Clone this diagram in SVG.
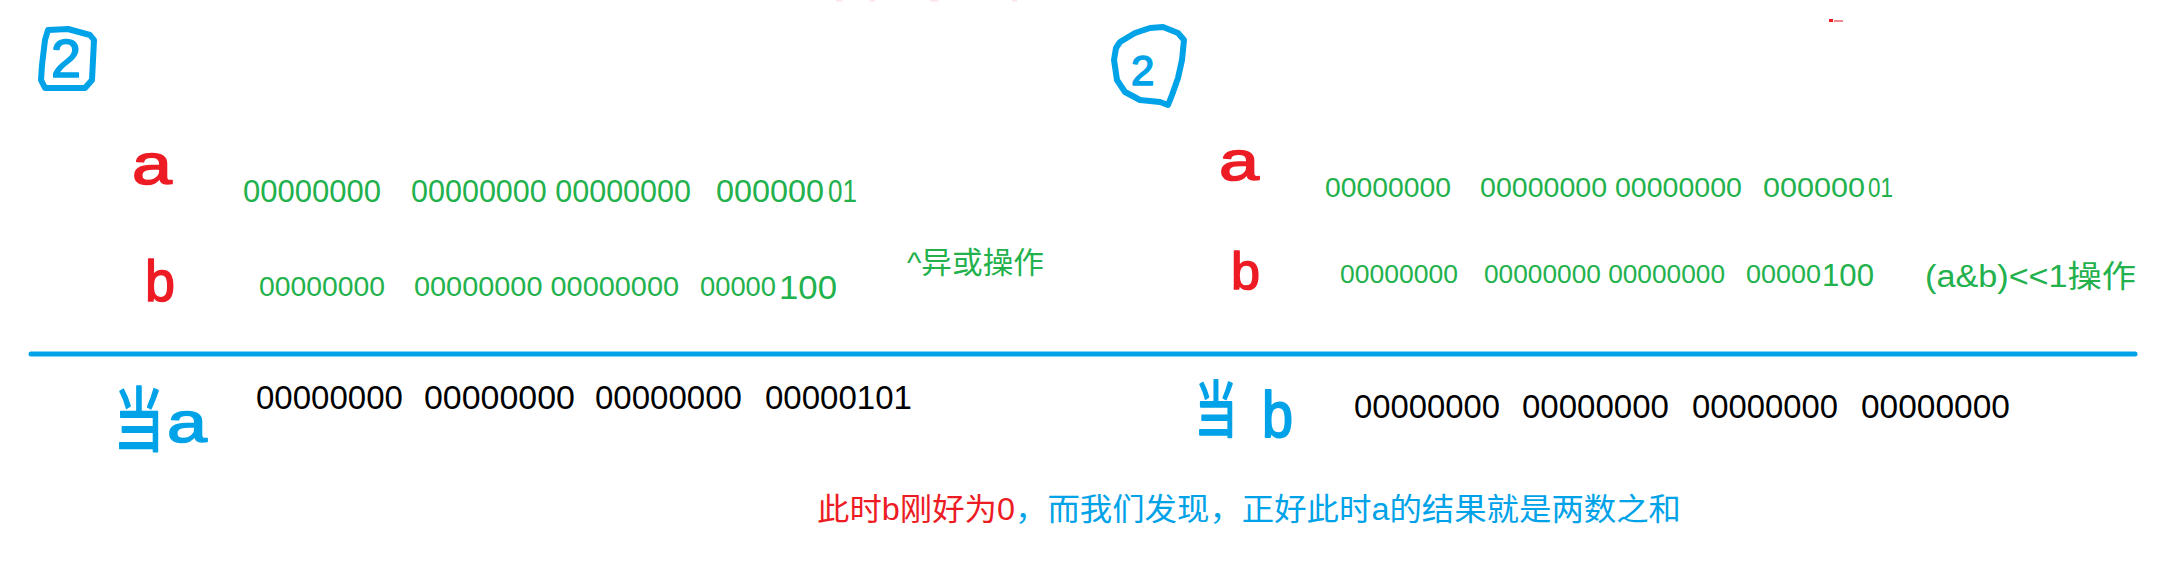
<svg xmlns="http://www.w3.org/2000/svg" width="2164" height="583" viewBox="0 0 2164 583">
<style>
.g{fill:#22b14c;font-family:"Liberation Sans","Noto Sans CJK SC",sans-serif}
.k{fill:#000;font-family:"Liberation Sans",sans-serif;font-size:33px}
.hb{fill:#00a2e8;stroke:#00a2e8;stroke-width:1.5;stroke-linejoin:round;font-family:"Liberation Sans","Noto Sans CJK SC",sans-serif}
.hr{fill:#ed1c24;stroke:#ed1c24;stroke-width:1.5;stroke-linejoin:round;font-family:"Liberation Sans",sans-serif}
.ln{fill:none;stroke:#00a2e8;stroke-width:6;stroke-linecap:round;stroke-linejoin:round}
.cj{font-family:"Noto Sans CJK SC",sans-serif}
</style>
<rect width="2164" height="583" fill="#fff"/>
<g id="marks">
<rect x="836" y="0" width="6" height="1.5" fill="#fbe3e7"/>
<rect x="870" y="0" width="5" height="1.5" fill="#fbe3e7"/>
<rect x="930" y="0" width="8" height="1.5" fill="#fbe3e7"/>
<rect x="1012" y="0" width="5" height="1.5" fill="#fbe3e7"/>
<rect x="1829" y="19" width="4" height="3" fill="#ed1c24"/>
<rect x="1834" y="20" width="9" height="2" fill="#f08a90"/>
</g>
<g id="step2-left">
<path class="ln" d="M48,30 L68,29 L90,35 L94,40 L93,60 L92,80 L85,88 L45,88 L41,80 L42,65 L45,40 Z"/>
<text class="hb" x="51" y="77" font-size="54" stroke-width="2">2</text>
</g>
<g id="step2-right">
<path class="ln" d="M1120,42 L1135,33 L1150,28 L1163,27 L1178,33 L1184,40 L1182,60 L1178,78 L1172,95 L1168,105 L1160,102 L1140,100 L1125,92 L1117,80 L1114,60 L1116,48 Z"/>
<text class="hb" x="1131" y="85" font-size="42" stroke-width="2">2</text>
</g>
<g id="left-a">
<text class="hr" x="132" y="184" font-size="58" textLength="40" lengthAdjust="spacingAndGlyphs">a</text>
<text class="g" y="202" font-size="32"><tspan x="243" textLength="138" lengthAdjust="spacingAndGlyphs">00000000</tspan><tspan x="411" textLength="280" lengthAdjust="spacingAndGlyphs">00000000 00000000</tspan><tspan x="716" textLength="108" lengthAdjust="spacingAndGlyphs">000000</tspan><tspan x="828" textLength="29" lengthAdjust="spacingAndGlyphs">01</tspan></text>
</g>
<g id="left-b">
<text class="hr" x="145" y="301" font-size="58" textLength="30" lengthAdjust="spacingAndGlyphs">b</text>
<text class="g" y="296" font-size="28"><tspan x="259" textLength="126" lengthAdjust="spacingAndGlyphs">00000000</tspan><tspan x="414" textLength="265" lengthAdjust="spacingAndGlyphs">00000000 00000000</tspan><tspan x="700" textLength="76" lengthAdjust="spacingAndGlyphs">00000</tspan></text>
<text class="g" x="779" y="299" font-size="34" textLength="58" lengthAdjust="spacingAndGlyphs">100</text>
<text class="g" x="907" y="273" font-size="30" textLength="137" lengthAdjust="spacingAndGlyphs">^<tspan class="cj">异或操作</tspan></text>
</g>
<g id="right-a">
<text class="hr" x="1219" y="180" font-size="56" textLength="40" lengthAdjust="spacingAndGlyphs">a</text>
<text class="g" y="197" font-size="28"><tspan x="1325" textLength="126" lengthAdjust="spacingAndGlyphs">00000000</tspan><tspan x="1480" textLength="262" lengthAdjust="spacingAndGlyphs">00000000 00000000</tspan><tspan x="1763" textLength="102" lengthAdjust="spacingAndGlyphs">000000</tspan><tspan x="1868" textLength="25" lengthAdjust="spacingAndGlyphs">01</tspan></text>
</g>
<g id="right-b">
<text class="hr" x="1231" y="289" font-size="52" textLength="29" lengthAdjust="spacingAndGlyphs">b</text>
<text class="g" y="283" font-size="26"><tspan x="1340" textLength="118" lengthAdjust="spacingAndGlyphs">00000000</tspan><tspan x="1484" textLength="241" lengthAdjust="spacingAndGlyphs">00000000 00000000</tspan><tspan x="1746" textLength="75" lengthAdjust="spacingAndGlyphs">00000</tspan></text>
<text class="g" x="1822" y="286" font-size="31" textLength="52" lengthAdjust="spacingAndGlyphs">100</text>
<text class="g" x="1925" y="287" font-size="31" textLength="211" lengthAdjust="spacingAndGlyphs">(a&amp;b)&lt;&lt;1<tspan class="cj">操作</tspan></text>
</g>
<g id="connectors">
<line x1="31" y1="354" x2="2135" y2="354" stroke="#00a2e8" stroke-width="5" stroke-linecap="round"/>
</g>
<g id="result-a">
<text class="hb cj" transform="translate(114,446) scale(1,1.4)" font-size="50" textLength="50" lengthAdjust="spacingAndGlyphs">当</text>
<text class="hb" x="167" y="442" font-size="58" textLength="40" lengthAdjust="spacingAndGlyphs">a</text>
<text class="k" y="409"><tspan x="256" textLength="147" lengthAdjust="spacingAndGlyphs">00000000</tspan><tspan x="424" textLength="151" lengthAdjust="spacingAndGlyphs">00000000</tspan><tspan x="595" textLength="147" lengthAdjust="spacingAndGlyphs">00000000</tspan><tspan x="765" textLength="147" lengthAdjust="spacingAndGlyphs">00000101</tspan></text>
</g>
<g id="result-b">
<text class="hb cj" transform="translate(1195,432) scale(1,1.45)" font-size="42" textLength="42" lengthAdjust="spacingAndGlyphs">当</text>
<text class="hb" transform="translate(1262,437) scale(1,1.3)" font-size="50" textLength="31" lengthAdjust="spacingAndGlyphs">b</text>
<text class="k" y="418"><tspan x="1354" textLength="146" lengthAdjust="spacingAndGlyphs">00000000</tspan><tspan x="1522" textLength="147" lengthAdjust="spacingAndGlyphs">00000000</tspan><tspan x="1692" textLength="146" lengthAdjust="spacingAndGlyphs">00000000</tspan><tspan x="1861" textLength="149" lengthAdjust="spacingAndGlyphs">00000000</tspan></text>
</g>
<g id="conclusion">
<text x="817" y="520" font-size="31" font-family="Liberation Sans, Noto Sans CJK SC, sans-serif" textLength="864" lengthAdjust="spacingAndGlyphs"><tspan fill="#ed1c24">此时b刚好为0</tspan><tspan fill="#00a2e8">，而我们发现，正好此时a的结果就是两数之和</tspan></text>
</g>
</svg>
